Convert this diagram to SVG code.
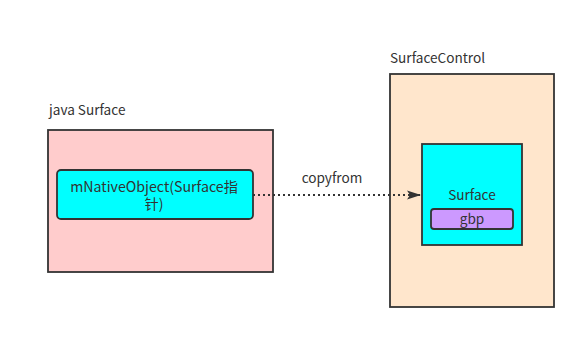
<svg xmlns="http://www.w3.org/2000/svg" width="586" height="339" viewBox="0 0 586 339">
<style>
text{font-family:"Noto Sans CJK SC","Noto Sans","Open Sans",sans-serif;font-size:13.6px;fill:#333}
.box{stroke:#333;stroke-width:1.8}
.c{text-anchor:middle}
</style>
<defs>
<marker id="ah" markerWidth="14" markerHeight="10" refX="13" refY="5" orient="auto" markerUnits="userSpaceOnUse">
<path d="M0,0.5 L14,5 L0,9.5 L3,5 Z" fill="#333"/>
</marker>
</defs>
<rect width="586" height="339" fill="#fff"/>
<g id="javaSurface">
<text x="49" y="115">java Surface</text>
<rect class="box" x="48" y="130" width="225" height="142" fill="#ffcccc"/>
</g>
<g id="mNativeObject">
<rect class="box" x="57" y="170" width="196" height="49" rx="4" fill="#00ffff"/>
<text class="c" x="154" y="191.5" style="font-size:14.2px">mNativeObject(Surface指</text>
<text class="c" x="154" y="208.5" style="font-size:14.2px">针)</text>
</g>
<g id="SurfaceControl">
<text x="390" y="63">SurfaceControl</text>
<rect class="box" x="390" y="74" width="164" height="233" fill="#ffe6cc"/>
</g>
<g id="Surface">
<rect class="box" x="422" y="144" width="100" height="101" fill="#00ffff"/>
<text class="c" x="472" y="200">Surface</text>
</g>
<g id="gbp">
<rect class="box" x="431" y="209" width="82" height="20" rx="3" fill="#cc99ff"/>
<text class="c" x="472" y="224">gbp</text>
</g>
<g id="connectors">
<line x1="253" y1="195" x2="420" y2="195" stroke="#333" stroke-width="2" stroke-dasharray="2,3" marker-end="url(#ah)"/>
<text class="c" x="332" y="183">copyfrom</text>
</g>
</svg>
